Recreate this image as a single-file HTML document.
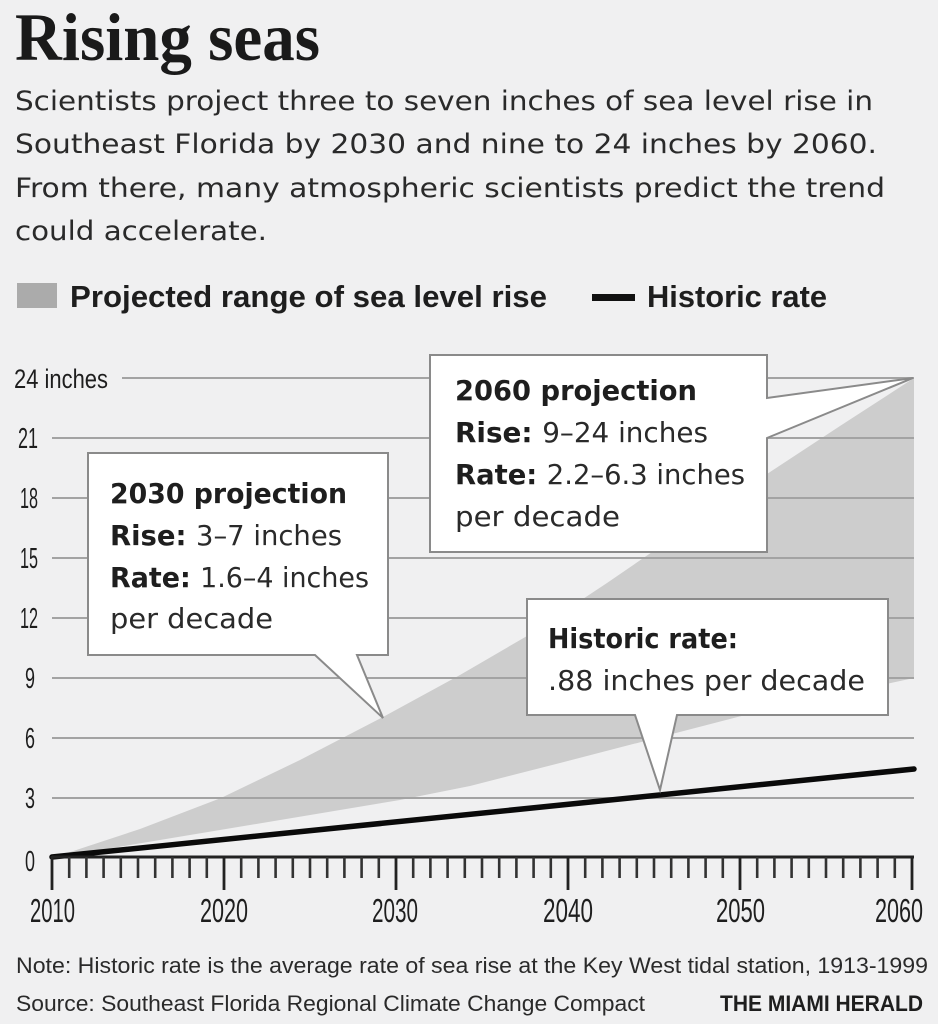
<!DOCTYPE html>
<html><head><meta charset="utf-8"><style>
html,body{margin:0;padding:0;background:#f0f0f1;}
svg{display:block;}
text{font-family:"Liberation Sans",Arial,sans-serif;fill:#1e1e1e;}
.d{font-family:"DejaVu Sans","Liberation Sans",sans-serif;}
.b{font-weight:bold;}
.r{font-weight:normal;fill:#2a2a2a;}
</style></head><body>
<svg width="938" height="1024" viewBox="0 0 938 1024" xmlns="http://www.w3.org/2000/svg">
<rect width="938" height="1024" fill="#f0f0f1"/>
<!-- Title -->
<text x="15" y="60" font-weight="bold" font-size="68" textLength="305" lengthAdjust="spacingAndGlyphs" style="font-family:'Liberation Serif',serif;fill:#1a1a1a">Rising seas</text>
<!-- Subtitle -->
<g font-size="27">
<text class="r d" x="15" y="110" textLength="858" lengthAdjust="spacingAndGlyphs">Scientists project three to seven inches of sea level rise in</text>
<text class="r d" x="15" y="153" textLength="862" lengthAdjust="spacingAndGlyphs">Southeast Florida by 2030 and nine to 24 inches by 2060.</text>
<text class="r d" x="15" y="197" textLength="870" lengthAdjust="spacingAndGlyphs">From there, many atmospheric scientists predict the trend</text>
<text class="r d" x="15" y="240" textLength="252" lengthAdjust="spacingAndGlyphs">could accelerate.</text>
</g>
<!-- Legend -->
<rect x="17" y="283" width="40" height="25" fill="#ababab"/>
<text class="b" x="70" y="307" font-size="31" textLength="477" lengthAdjust="spacingAndGlyphs">Projected range of sea level rise</text>
<rect x="592" y="294" width="43" height="7" fill="#111"/>
<text class="b" x="647" y="307" font-size="31" textLength="180" lengthAdjust="spacingAndGlyphs">Historic rate</text>

<!-- Band -->
<polygon fill="#cdcdcd" points="52,858 140,829 221,798 300,760 383,717 460,675 527,636 607,583 690,526 767,474 840,426 914,378 914,678 753,713 560,763 470,786 400,800 250,825 52,858"/>
<!-- Gridlines -->
<g stroke="#a3a3a3" stroke-width="2" fill="none">
<path d="M122 378H914M52 438H914M52 498H914M52 558H914M52 618H914M52 678H914M52 738H914M52 798H914"/>
</g>
<!-- Y labels -->
<g font-size="29">
<text x="14" y="388" font-size="27" textLength="94" lengthAdjust="spacingAndGlyphs">24 inches</text>
<text x="18" y="448" textLength="20" lengthAdjust="spacingAndGlyphs">21</text>
<text x="20" y="508" textLength="18" lengthAdjust="spacingAndGlyphs">18</text>
<text x="20" y="568" textLength="18" lengthAdjust="spacingAndGlyphs">15</text>
<text x="20" y="628" textLength="18" lengthAdjust="spacingAndGlyphs">12</text>
<text x="25" y="688" textLength="10" lengthAdjust="spacingAndGlyphs">9</text>
<text x="25" y="748" textLength="10" lengthAdjust="spacingAndGlyphs">6</text>
<text x="25" y="808" textLength="10" lengthAdjust="spacingAndGlyphs">3</text>
<text x="25" y="871" textLength="10" lengthAdjust="spacingAndGlyphs">0</text>
</g>
<!-- Historic line -->
<line x1="52" y1="857" x2="914" y2="769" stroke="#0a0a0a" stroke-width="5.5" stroke-linecap="round"/>
<!-- Axis -->
<path d="M52 857H914" stroke="#222" stroke-width="3"/>
<path stroke="#333" stroke-width="2.6" fill="none" d="M69.2 857V878M86.4 857V878M103.6 857V878M120.8 857V878M138 857V878M155.2 857V878M172.4 857V878M189.6 857V878M206.8 857V878M241.2 857V878M258.4 857V878M275.6 857V878M292.8 857V878M310 857V878M327.2 857V878M344.4 857V878M361.6 857V878M378.8 857V878M413.2 857V878M430.4 857V878M447.6 857V878M464.8 857V878M482 857V878M499.2 857V878M516.4 857V878M533.6 857V878M550.8 857V878M585.2 857V878M602.4 857V878M619.6 857V878M636.8 857V878M654 857V878M671.2 857V878M688.4 857V878M705.6 857V878M722.8 857V878M757.2 857V878M774.4 857V878M791.6 857V878M808.8 857V878M826 857V878M843.2 857V878M860.4 857V878M877.6 857V878M894.8 857V878"/>
<path stroke="#222" stroke-width="2.8" fill="none" d="M52 856V890M224 857V890M396 857V890M568 857V890M740 857V890M912 857V890"/>
<!-- X labels -->
<g font-size="33">
<text x="30" y="922" textLength="45" lengthAdjust="spacingAndGlyphs">2010</text>
<text x="200" y="922" textLength="48" lengthAdjust="spacingAndGlyphs">2020</text>
<text x="372" y="922" textLength="46" lengthAdjust="spacingAndGlyphs">2030</text>
<text x="543" y="922" textLength="50" lengthAdjust="spacingAndGlyphs">2040</text>
<text x="716" y="922" textLength="49" lengthAdjust="spacingAndGlyphs">2050</text>
<text x="875" y="922" textLength="48" lengthAdjust="spacingAndGlyphs">2060</text>
</g>

<!-- Callouts -->
<path d="M88 453H388V655H357L383 718L315 655H88Z" fill="#fff" stroke="#8a8a8a" stroke-width="2"/>
<g font-size="28">
<text class="b d" x="110" y="503" textLength="237" lengthAdjust="spacingAndGlyphs">2030 projection</text>
<text class="b d" x="110" y="545" textLength="232" lengthAdjust="spacingAndGlyphs">Rise: <tspan class="r">3–7 inches</tspan></text>
<text class="b d" x="110" y="587" textLength="259" lengthAdjust="spacingAndGlyphs">Rate: <tspan class="r">1.6–4 inches</tspan></text>
<text class="r d" x="110" y="628" textLength="163" lengthAdjust="spacingAndGlyphs">per decade</text>
</g>

<path d="M430 355H767V398L913 378L767 438V552H430Z" fill="#fff" stroke="#8a8a8a" stroke-width="2"/>
<g font-size="28">
<text class="b d" x="455" y="400" textLength="242" lengthAdjust="spacingAndGlyphs">2060 projection</text>
<text class="b d" x="455" y="442" textLength="253" lengthAdjust="spacingAndGlyphs">Rise: <tspan class="r">9–24 inches</tspan></text>
<text class="b d" x="455" y="484" textLength="290" lengthAdjust="spacingAndGlyphs">Rate: <tspan class="r">2.2–6.3 inches</tspan></text>
<text class="r d" x="455" y="526" textLength="165" lengthAdjust="spacingAndGlyphs">per decade</text>
</g>

<path d="M527 599H888V715H677L660 790L635 715H527Z" fill="#fff" stroke="#8a8a8a" stroke-width="2"/>
<g font-size="28">
<text class="b d" x="548" y="648" textLength="190" lengthAdjust="spacingAndGlyphs">Historic rate:</text>
<text class="r d" x="548" y="690" textLength="317" lengthAdjust="spacingAndGlyphs">.88 inches per decade</text>
</g>

<!-- Footer -->
<text class="r" x="16" y="973" font-size="22" textLength="912" lengthAdjust="spacingAndGlyphs">Note: Historic rate is the average rate of sea rise at the Key West tidal station, 1913-1999</text>
<text class="r" x="16" y="1011" font-size="22" textLength="629" lengthAdjust="spacingAndGlyphs">Source: Southeast Florida Regional Climate Change Compact</text>
<text class="b" x="720" y="1011" font-size="22" textLength="203" lengthAdjust="spacingAndGlyphs">THE MIAMI HERALD</text>
</svg>
</body></html>
